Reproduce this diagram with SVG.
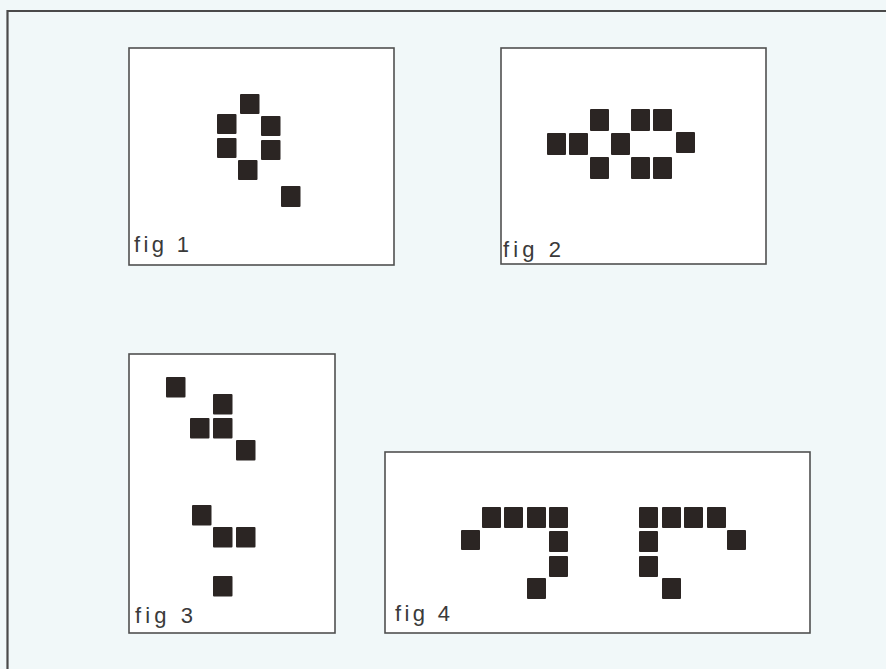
<svg xmlns="http://www.w3.org/2000/svg" width="886" height="669" viewBox="0 0 886 669">
<defs>
<style>
.bg{fill:#f1f8f9}
.frame{fill:none;stroke:#4a4a4a;stroke-width:2.2}
.box{fill:#ffffff;stroke:#505050;stroke-width:1.6}
.sq{fill:#2b2523}
.lbl{font-family:"Liberation Sans","DejaVu Sans",sans-serif;font-size:22px;font-weight:300;fill:#3a3a3a}
</style>
</defs>
<rect class="bg" x="0" y="0" width="886" height="669"/>
<path class="frame" d="M7.5 669 V11 H886"/>
<g id="fig1">
<rect class="box" x="129" y="48" width="265" height="217"/>
<rect class="sq" x="240" y="94" width="19.5" height="20" rx="1"/>
<rect class="sq" x="217" y="114" width="19.5" height="20" rx="1"/>
<rect class="sq" x="261" y="116" width="19.5" height="20" rx="1"/>
<rect class="sq" x="217" y="138" width="19.5" height="20" rx="1"/>
<rect class="sq" x="261" y="140" width="19.5" height="20" rx="1"/>
<rect class="sq" x="238" y="160" width="19.5" height="20" rx="1"/>
<rect class="sq" x="281" y="186" width="19.5" height="21" rx="1"/>
<text class="lbl" x="134" y="252" textLength="55" lengthAdjust="spacing">fig 1</text>
</g>
<g id="fig2">
<rect class="box" x="501" y="48" width="265" height="216"/>
<rect class="sq" x="590" y="109" width="19" height="22" rx="1"/>
<rect class="sq" x="631" y="109" width="19" height="22" rx="1"/>
<rect class="sq" x="653" y="109" width="19" height="22" rx="1"/>
<rect class="sq" x="547" y="133" width="19" height="22" rx="1"/>
<rect class="sq" x="569" y="133" width="19" height="22" rx="1"/>
<rect class="sq" x="611" y="133" width="19" height="22" rx="1"/>
<rect class="sq" x="676" y="132" width="19" height="21" rx="1"/>
<rect class="sq" x="590" y="157" width="19" height="22" rx="1"/>
<rect class="sq" x="631" y="157" width="19" height="22" rx="1"/>
<rect class="sq" x="653" y="157" width="19" height="22" rx="1"/>
<text class="lbl" x="503" y="257" textLength="58" lengthAdjust="spacing">fig 2</text>
</g>
<g id="fig3">
<rect class="box" x="129" y="354" width="206" height="279"/>
<rect class="sq" x="166" y="377" width="19.5" height="20.5" rx="1"/>
<rect class="sq" x="213" y="394" width="19.5" height="20.5" rx="1"/>
<rect class="sq" x="190" y="418" width="19.5" height="20.5" rx="1"/>
<rect class="sq" x="213" y="418" width="19.5" height="20.5" rx="1"/>
<rect class="sq" x="236" y="440" width="19.5" height="20.5" rx="1"/>
<rect class="sq" x="192" y="505" width="19.5" height="20.5" rx="1"/>
<rect class="sq" x="213" y="527" width="19.5" height="20.5" rx="1"/>
<rect class="sq" x="236" y="527" width="19.5" height="20.5" rx="1"/>
<rect class="sq" x="213" y="576" width="19.5" height="20.5" rx="1"/>
<text class="lbl" x="135" y="623" textLength="58" lengthAdjust="spacing">fig 3</text>
</g>
<g id="fig4">
<rect class="box" x="385" y="452" width="425" height="181"/>
<rect class="sq" x="482" y="507" width="19" height="21" rx="1"/>
<rect class="sq" x="504" y="507" width="19" height="21" rx="1"/>
<rect class="sq" x="527" y="507" width="19" height="21" rx="1"/>
<rect class="sq" x="549" y="507" width="19" height="21" rx="1"/>
<rect class="sq" x="461" y="530" width="19" height="20" rx="1"/>
<rect class="sq" x="549" y="531" width="19" height="21" rx="1"/>
<rect class="sq" x="549" y="556" width="19" height="21" rx="1"/>
<rect class="sq" x="527" y="578" width="19" height="21" rx="1"/>
<rect class="sq" x="639" y="507" width="19" height="21" rx="1"/>
<rect class="sq" x="662" y="507" width="19" height="21" rx="1"/>
<rect class="sq" x="684" y="507" width="19" height="21" rx="1"/>
<rect class="sq" x="707" y="507" width="19" height="21" rx="1"/>
<rect class="sq" x="727" y="530" width="19" height="20" rx="1"/>
<rect class="sq" x="639" y="531" width="19" height="21" rx="1"/>
<rect class="sq" x="639" y="556" width="19" height="21" rx="1"/>
<rect class="sq" x="662" y="578" width="19" height="21" rx="1"/>
<text class="lbl" x="395" y="621" textLength="55" lengthAdjust="spacing">fig 4</text>
</g>
</svg>
